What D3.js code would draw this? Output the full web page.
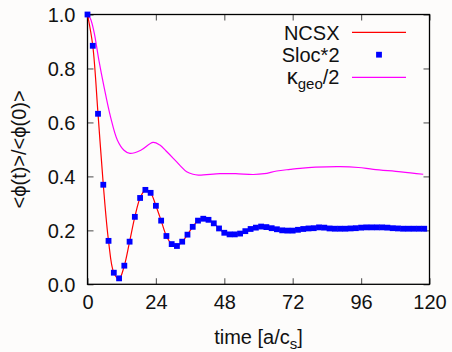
<!DOCTYPE html>
<html>
<head>
<meta charset="utf-8">
<script src="https://cdn.jsdelivr.net/npm/d3@7"></script>
<style>
  html, body { margin: 0; padding: 0; background: #fdfcfb; }
  svg { display: block; font-family: "Liberation Sans", Arial, sans-serif; }
</style>
</head>
<body>
<svg id="chart" width="452" height="352"></svg>
<script>
// Sampling times of the Sloc*2 / NCSX runs
const times = [0.00, 1.85, 3.69, 5.54, 7.38, 9.23, 11.08, 12.92, 14.77, 16.61,
  18.46, 20.31, 22.15, 24.00, 25.84, 27.69, 29.54, 31.38, 33.23, 35.08,
  36.92, 38.77, 40.62, 42.46, 44.31, 46.15, 48.00, 49.85, 51.69, 53.54,
  55.38, 57.23, 59.08, 60.92, 62.77, 64.62, 66.46, 68.31, 70.15, 72.00,
  73.85, 75.69, 77.54, 79.38, 81.23, 83.08, 84.92, 86.77, 88.62, 90.46,
  92.31, 94.15, 96.00, 97.85, 99.69, 101.54, 103.38, 105.23, 107.08, 108.92,
  110.77, 112.62, 114.46, 116.31, 118.15];

// Normalised zonal potential, NCSX geometry
const ncsx = [1.000, 0.884, 0.632, 0.369, 0.161, 0.043, 0.020, 0.069, 0.158, 0.250,
  0.320, 0.350, 0.339, 0.291, 0.236, 0.179, 0.149, 0.142, 0.158, 0.184,
  0.213, 0.236, 0.243, 0.239, 0.226, 0.207, 0.191, 0.185, 0.185, 0.188,
  0.197, 0.205, 0.210, 0.214, 0.212, 0.208, 0.204, 0.200, 0.199, 0.199,
  0.202, 0.205, 0.207, 0.208, 0.211, 0.210, 0.207, 0.206, 0.206, 0.206,
  0.207, 0.208, 0.210, 0.211, 0.211, 0.211, 0.211, 0.210, 0.208, 0.207,
  0.206, 0.206, 0.206, 0.206, 0.206];

// Same quantity with local magnetic shear doubled
const sloc2 = [1.000, 0.884, 0.632, 0.369, 0.161, 0.043, 0.022, 0.069, 0.158, 0.250,
  0.320, 0.350, 0.339, 0.291, 0.236, 0.179, 0.149, 0.142, 0.158, 0.184,
  0.213, 0.236, 0.243, 0.239, 0.226, 0.207, 0.191, 0.185, 0.185, 0.188,
  0.197, 0.205, 0.210, 0.214, 0.212, 0.208, 0.204, 0.200, 0.199, 0.199,
  0.202, 0.205, 0.207, 0.208, 0.211, 0.210, 0.207, 0.206, 0.206, 0.206,
  0.207, 0.208, 0.210, 0.211, 0.211, 0.211, 0.211, 0.210, 0.208, 0.207,
  0.206, 0.206, 0.206, 0.206, 0.206];

// Geodesic curvature halved
const kgeoTimes = [0, 1, 2.3, 4.0, 5.8, 8.1, 10.5, 12.8, 14.9, 18.7,
  23.0, 25.4, 27.5, 30.1, 32.5, 34.8, 37.0, 38.9, 46.5, 52.0,
  58.2, 62.0, 66.4, 71.1, 74.6, 80.0, 88.6, 95.0, 100.3, 110.0, 117.8];
const kgeo = [1.000, 0.985, 0.935, 0.830, 0.732, 0.620, 0.534, 0.497, 0.485, 0.497,
  0.526, 0.516, 0.495, 0.467, 0.440, 0.417, 0.408, 0.405, 0.410, 0.410,
  0.407, 0.410, 0.420, 0.426, 0.430, 0.434, 0.436, 0.433, 0.426, 0.417, 0.408];

const xTicks = [0, 24, 48, 72, 96, 120];
const yTicks = [0.0, 0.2, 0.4, 0.6, 0.8, 1.0];

const plotL = 87.5, plotR = 429.5, plotT = 14.5, plotB = 284.3;
const svg = d3.select("#chart");

const x = d3.scaleLinear().domain([0, 120]).range([plotL, plotR]);
const y = d3.scaleLinear().domain([0, 1]).range([plotB, plotT]);

// Inward ticks on all four sides (mirrored)
const tickLen = 6;
const axB = svg.append("g").attr("transform", `translate(0,${plotB})`)
  .call(d3.axisBottom(x).tickValues(xTicks).tickSize(-tickLen).tickPadding(10).tickFormat(d3.format("d")));
const axT = svg.append("g").attr("transform", `translate(0,${plotT})`)
  .call(d3.axisTop(x).tickValues(xTicks).tickSize(-tickLen).tickFormat(""));
const axL = svg.append("g").attr("transform", `translate(${plotL},0)`)
  .call(d3.axisLeft(y).tickValues(yTicks).tickSize(-tickLen).tickPadding(12).tickFormat(d3.format(".1f")));
const axR = svg.append("g").attr("transform", `translate(${plotR},0)`)
  .call(d3.axisRight(y).tickValues(yTicks).tickSize(-tickLen).tickFormat(""));

[axB, axT, axL, axR].forEach(g => {
  g.select(".domain").remove();
  g.selectAll(".tick line").attr("stroke", "#666").attr("stroke-width", 1.2);
  g.selectAll(".tick text").attr("fill", "#111").style("font-size", "20px")
    .style("font-family", "'Liberation Sans', Arial, sans-serif");
});
axL.selectAll(".tick text").attr("dy", "0.36em");
axB.selectAll(".tick text").attr("dy", "0.76em");

// Plot frame
svg.append("rect")
  .attr("x", plotL).attr("y", plotT)
  .attr("width", plotR - plotL).attr("height", plotB - plotT)
  .attr("fill", "none").attr("stroke", "#000").attr("stroke-width", 1.3);

// Series
const magentaLine = d3.line().x(d => x(d[0])).y(d => y(d[1])).curve(d3.curveCatmullRom);
svg.append("path")
  .datum(kgeoTimes.map((t, i) => [t, kgeo[i]]))
  .attr("d", magentaLine)
  .attr("fill", "none").attr("stroke", "#ff00ff").attr("stroke-width", 1.2);

const redLine = d3.line().x(d => x(d[0])).y(d => y(d[1])).curve(d3.curveCatmullRom);
svg.append("path")
  .datum(times.map((t, i) => [t, ncsx[i]]))
  .attr("d", redLine)
  .attr("fill", "none").attr("stroke", "#ff0000").attr("stroke-width", 1.2);

const sq = 5.8;
svg.append("g").selectAll("rect")
  .data(times.map((t, i) => [t, sloc2[i]]))
  .join("rect")
  .attr("x", d => x(d[0]) - sq / 2)
  .attr("y", d => y(d[1]) - sq / 2)
  .attr("width", sq).attr("height", sq)
  .attr("fill", "#0000ff");

// Legend
const lg = svg.append("g").style("font-size", "20px").attr("fill", "#111");
const textRight = 339.5, sampleX0 = 352, sampleX1 = 406;
lg.append("text").attr("x", textRight).attr("y", 39.5).attr("text-anchor", "end").text("NCSX");
lg.append("line").attr("x1", sampleX0).attr("x2", sampleX1).attr("y1", 32.3).attr("y2", 32.3)
  .attr("stroke", "#ff0000").attr("stroke-width", 1.2);
lg.append("text").attr("x", textRight).attr("y", 61.5).attr("text-anchor", "end").text("Sloc*2");
lg.append("rect").attr("x", 379 - sq / 2).attr("y", 54.7 - sq / 2).attr("width", sq).attr("height", sq)
  .attr("fill", "#0000ff");
const kt = lg.append("text").attr("x", textRight).attr("y", 83.5).attr("text-anchor", "end");
kt.append("tspan").style("font-size", "22px").text("κ");
kt.append("tspan").attr("dy", 5).style("font-size", "15px").text("geo");
kt.append("tspan").attr("dy", -5).text("/2");
lg.append("line").attr("x1", sampleX0).attr("x2", sampleX1).attr("y1", 77.3).attr("y2", 77.3)
  .attr("stroke", "#ff00ff").attr("stroke-width", 1.2);

// Axis titles
const xt = svg.append("text").attr("x", (plotL + plotR) / 2).attr("y", 344)
  .attr("text-anchor", "middle").style("font-size", "20px").attr("fill", "#111");
xt.append("tspan").text("time [a/c");
xt.append("tspan").attr("dy", 5).style("font-size", "15px").text("s");
xt.append("tspan").attr("dy", -5).text("]");

svg.append("text")
  .attr("transform", `translate(26,${(plotT + plotB) / 2}) rotate(-90)`)
  .attr("text-anchor", "middle").style("font-size", "20px").attr("fill", "#111")
  .text("<ϕ(t)>/<ϕ(0)>");
</script>
</body>
</html>
